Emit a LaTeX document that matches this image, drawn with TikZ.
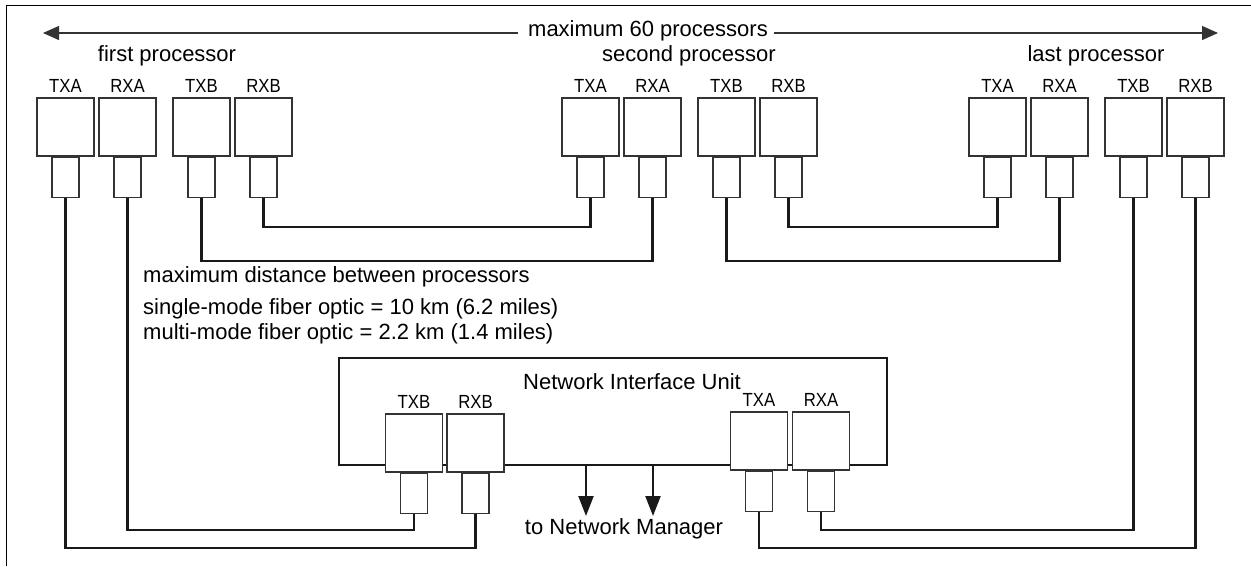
\documentclass[tikz,border=0pt]{standalone}
\usepackage{fontspec}
\setmainfont{Liberation Sans}
\newfontfamily\lblfont[FakeStretch=0.88]{Liberation Sans}
\usetikzlibrary{arrows.meta, positioning}

\begin{document}
\begin{tikzpicture}[x=1pt, y=-1pt, >=Triangle,
    txt/.style={font=\fontsize{22}{26}\selectfont, inner sep=0pt},
    portlbl/.style={font=\lblfont\fontsize{19}{22}\selectfont, inner sep=0pt},
    port/.style={draw=black!80, line width=1.1pt, fill=white, minimum width=57pt, minimum height=58pt, inner sep=0pt},
    plug/.style={draw=black!80, line width=1.1pt, fill=white, minimum width=27pt, minimum height=40pt, inner sep=0pt},
    fiber/.style={draw=black!90, line width=2.2pt},
    niubox/.style={draw=black!90, line width=2.2pt, minimum width=548pt, minimum height=107pt, inner sep=0pt}]
  \useasboundingbox (0,0) rectangle (1251,566);
  % frame (top and left only)
  \draw[black, line width=1pt] (6,566) -- (6,5) -- (1251,5);

  % span of the processor ring
  \node[txt] (maxproc) at (648,31) {maximum 60 processors};
  \coordinate (spanl) at (43,33);
  \coordinate (spanr) at (1218,33);
  \draw[black!80, line width=1.3pt, -{Triangle[length=16pt,width=14pt]}] ([xshift=-10pt]maxproc.west |- spanl) -- (spanl);
  \draw[black!80, line width=1.3pt, -{Triangle[length=16pt,width=14pt]}] ([xshift=6pt]maxproc.east |- spanr) -- (spanr);

  % processor titles
  \node[txt] (p1name) at (167,56) {first processor};
  \node[txt] (p2name) at (689,56) {second processor};
  \node[txt] (p3name) at (1096,56) {last processor};

  % processor ports
  \foreach \grp/\gx in {p1/37, p2/562, p3/969} {
    \foreach \port/\dx/\lab in {txa/0/TXA, rxa/62/RXA, txb/136/TXB, rxb/198/RXB} {
      \node[port] (\grp\port) at (\gx+\dx+28.5,127) {};
      \node[plug, below=0pt of \grp\port] (\grp\port c) {};
      \node[portlbl, above=5pt of \grp\port] (\grp\port l) {\lab};
    }
  }

  % distance notes
  \node[txt, anchor=west] (note1) at (143,277) {maximum distance between processors};
  \node[txt, anchor=west] (note2) at (143,309) {single-mode fiber optic = 10 km (6.2 miles)};
  \node[txt, anchor=west] (note3) at (143,334) {multi-mode fiber optic = 2.2 km (1.4 miles)};

  % network interface unit
  \node[niubox] (niu) at (613,411.5) {};
  \node[txt] (niuname) at (632,382) {Network Interface Unit};
  \foreach \port/\px/\py/\lab in {txb/414/443/TXB, rxb/475.5/443/RXB, txa/759/441/TXA, rxa/821/441/RXA} {
    \node[port] (niu\port) at (\px,\py) {};
    \node[plug, below=0pt of niu\port] (niu\port c) {};
    \node[portlbl, above=5pt of niu\port] (niu\port l) {\lab};
  }

  % outputs to the manager
  \coordinate (mgr1) at (586,516);
  \coordinate (mgr2) at (653,516);
  \draw[fiber, -{Triangle[length=20pt,width=15pt]}] (niu.south -| mgr1) -- (mgr1);
  \draw[fiber, -{Triangle[length=20pt,width=15pt]}] (niu.south -| mgr2) -- (mgr2);
  \node[txt] (mgrname) at (624,529) {to Network Manager};

  % fiber links between processors
  \draw[fiber] (p1rxbc.south) -- ++(0,29) -| (p2txac.south);
  \draw[fiber] (p1txbc.south) -- ++(0,63) -| (p2rxac.south);
  \draw[fiber] (p2rxbc.south) -- ++(0,29) -| (p3txac.south);
  \draw[fiber] (p2txbc.south) -- ++(0,63) -| (p3rxac.south);
  % fiber links to the interface unit
  \draw[fiber] (p1rxac.south) -- ++(0,332) -| (niutxbc.south);
  \draw[fiber] (p1txac.south) -- ++(0,350) -| (niurxbc.south);
  \draw[fiber] (p3txbc.south) -- ++(0,332) -| (niurxac.south);
  \draw[fiber] (p3rxbc.south) -- ++(0,350) -| (niutxac.south);
\end{tikzpicture}
\end{document}
